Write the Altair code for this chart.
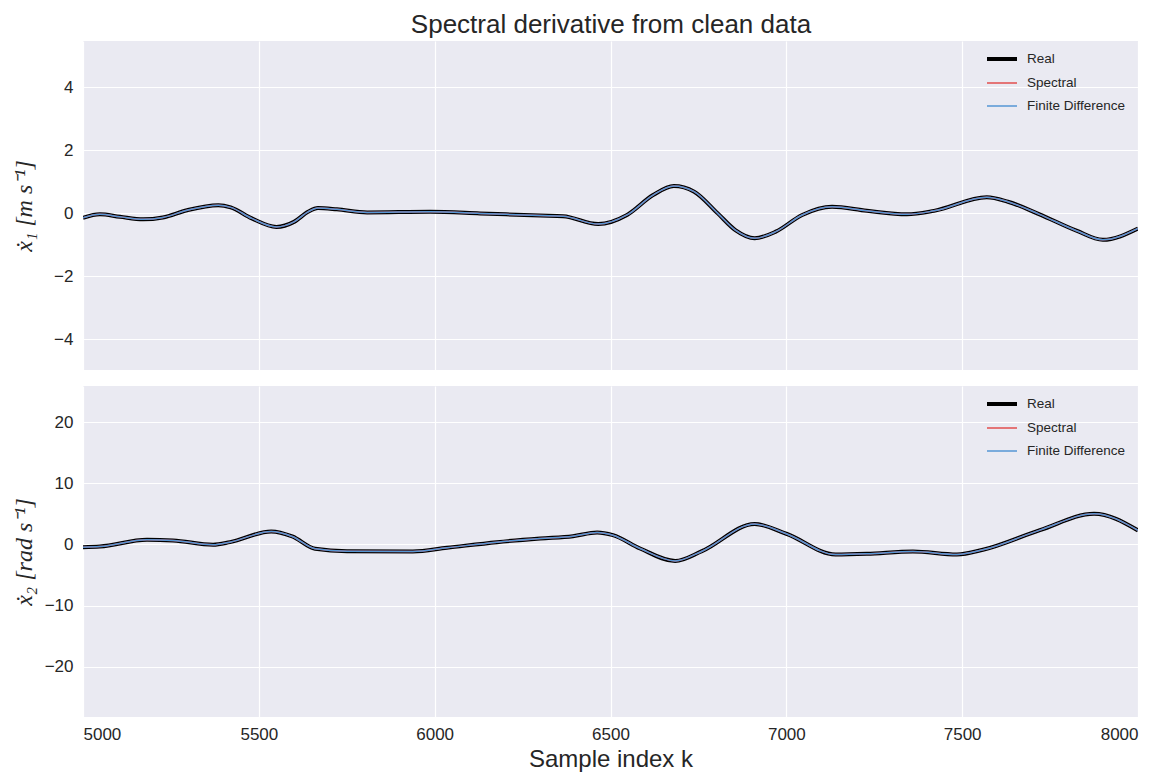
import altair as alt
import pandas as pd

# ---- data ----
k_top = [5000, 5048, 5105, 5171, 5227, 5296, 5385, 5420, 5480, 5550, 5600, 5640, 5668,
         5722, 5808, 5987, 6129, 6300, 6365, 6465, 6547, 6621, 6680, 6738, 6805, 6855,
         6910, 6970, 7045, 7130, 7229, 7343, 7420, 7570, 7630, 7720, 7825, 7900, 8000]
v_top = [-0.14, -0.03, -0.11, -0.19, -0.13, 0.10, 0.26, 0.19, -0.16, -0.43, -0.27, 0.05, 0.17,
         0.13, 0.03, 0.05, 0.0, -0.07, -0.09, -0.34, -0.05, 0.58, 0.87, 0.69, 0.0, -0.53,
         -0.79, -0.58, -0.05, 0.21, 0.08, -0.03, 0.08, 0.51, 0.37, -0.03, -0.55, -0.84, -0.48]

k_bot = [5000, 5048, 5182, 5256, 5370, 5418, 5535, 5595, 5660, 5751, 5938, 6035, 6177,
         6300, 6393, 6462, 6507, 6584, 6684, 6760, 6910, 7000, 7140, 7229, 7360, 7485,
         7559, 7721, 7875, 8000]
v_bot = [-0.44, -0.33, 0.77, 0.66, -0.05, 0.38, 2.13, 1.31, -0.71, -1.10, -1.15, -0.54, 0.38,
         0.98, 1.36, 1.97, 1.52, -0.66, -2.70, -1.10, 3.35, 1.75, -1.64, -1.53, -1.15, -1.64,
         -0.87, 2.34, 5.03, 2.30]

series = ["Real", "Spectral", "Finite Difference"]
colors = ["#000000", "#e24e4e", "#5596d4"]
widths = [4, 1.5, 1.5]

x_ticks = [5000, 5500, 6000, 6500, 7000, 7500, 8000]
top_ticks = [-4, -2, 0, 2, 4]
bot_ticks = [-20, -10, 0, 10, 20]
top_domain = [-4.97, 5.47]
bot_domain = [-28.2, 25.9]

TXT = "#262626"


def frame(k, v):
    rows = []
    for s in series:
        for kk, vv in zip(k, v):
            rows.append({"k": kk, "v": vv, "series": s})
    return pd.DataFrame(rows)


def panel(df, ydom, yticks, ytitle, bottom, h):
    xaxis = alt.Axis(values=x_ticks, labels=bottom, ticks=False, domain=False, format="d",
                     title="Sample index k" if bottom else "",
                     labelFontSize=17, titleFontSize=24, labelPadding=9,
                     titlePadding=5, labelColor=TXT, titleColor=TXT,
                     labelFont="Liberation Sans", titleFont="Liberation Sans",
                     titleFontWeight="normal", gridColor="white", gridWidth=1.2)
    yaxis = alt.Axis(values=yticks, ticks=False, domain=False, title=ytitle,
                     labelFontSize=17, labelPadding=10, labelColor=TXT,
                     titleColor=TXT, titleFont="Liberation Serif", titleFontSize=24,
                     titleFontStyle="italic", titleFontWeight="normal",
                     titleX=-47, titleY=h / 2, titleAnchor="middle",
                     labelFont="Liberation Sans", gridColor="white", gridWidth=1.2)
    color = alt.Color("series:N", scale=alt.Scale(domain=series, range=colors), title=None)
    sw = alt.StrokeWidth("series:N",
                         scale=alt.Scale(type="ordinal", domain=series, range=widths),
                         title=None)
    layers = []
    for s in series:
        layers.append(
            alt.Chart(df)
            .transform_filter(alt.datum.series == s)
            .mark_line(interpolate="monotone", clip=True)
            .encode(
                x=alt.X("k:Q", scale=alt.Scale(domain=[5000, 8000], nice=False, zero=False), axis=xaxis),
                y=alt.Y("v:Q", scale=alt.Scale(domain=ydom, nice=False, zero=False), axis=yaxis),
                color=color,
                strokeWidth=sw,
            )
        )
    return alt.layer(*layers).properties(width=1055, height=h)


top = panel(frame(k_top, v_top), top_domain, top_ticks, "ẋ₁ [m s⁻¹]", False, 329)
bot = panel(frame(k_bot, v_bot), bot_domain, bot_ticks, "ẋ₂ [rad s⁻¹]", True, 331)

chart = (
    alt.vconcat(top, bot, spacing=16)
    .resolve_scale(color="independent", strokeWidth="independent")
    .properties(
        title=alt.TitleParams("Spectral derivative from clean data", fontSize=26,
                              font="Liberation Sans", fontWeight="normal", color=TXT,
                              anchor="middle", offset=3, dx=36),
        padding={"left": 12, "top": 12, "right": 27, "bottom": 2},
        background="white",
    )
    .configure_view(fill="#EAEAF2", stroke=None)
    .configure_legend(orient="none", legendX=902, legendY=1, symbolType="stroke",
                      symbolSize=900, labelFontSize=13.5, labelFont="Liberation Sans",
                      labelColor=TXT, labelOffset=8, rowPadding=0, padding=0)
)

chart.save("out.html", embed_options={"renderer": "svg", "actions": False})
